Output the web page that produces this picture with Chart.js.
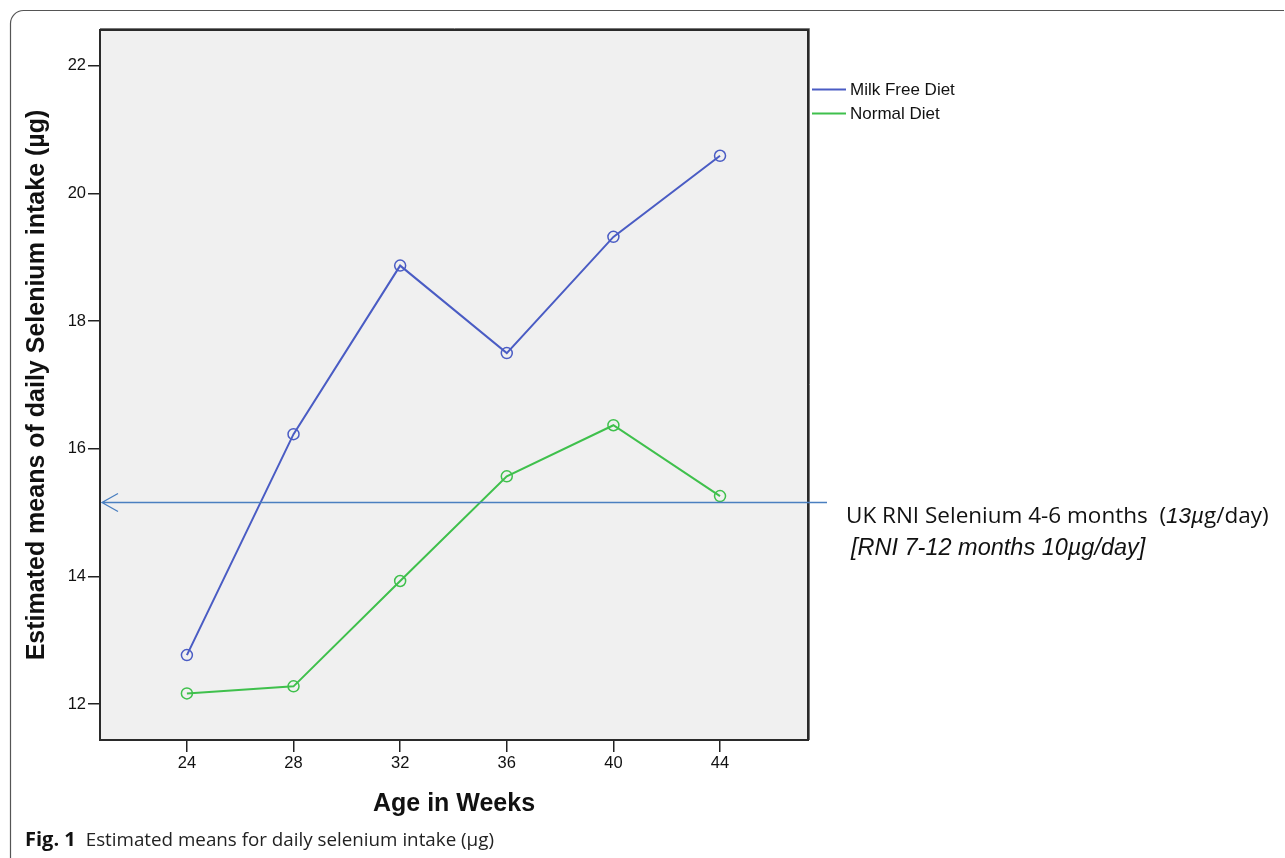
<!DOCTYPE html>
<html>
<head>
<meta charset="utf-8">
<script src="https://cdn.jsdelivr.net/npm/chart.js@4.4.0/dist/chart.umd.min.js"></script>
<style>
html,body{margin:0;padding:0;background:#fff;}
#wrap{position:relative;width:1285px;height:858px;}
canvas{display:block;}
</style>
</head>
<body>
<div id="wrap"><canvas id="c" width="1285" height="858"></canvas></div>
<script>
// ---- data ----
const weeks = [24, 28, 32, 36, 40, 44];
const milkFree = [12.77, 16.23, 18.87, 17.50, 19.32, 20.59];
const normalDiet = [12.17, 12.28, 13.93, 15.57, 16.37, 15.26];
const seriesNames = ['Milk Free Diet', 'Normal Diet'];
const xTicks = [24, 28, 32, 36, 40, 44];
const yTicks = [12, 14, 16, 18, 20, 22];
const rniValue = 15.17;
const rniLine1a = 'UK RNI Selenium 4-6 months  (';
const rniLine1b = '13µ';
const rniLine1c = 'g/day)';
const rniLine2 = '[RNI 7-12 months 10µg/day]';
const xTitle = 'Age in Weeks';
const yTitle = 'Estimated means of daily Selenium intake (µg)';
const captionBold = 'Fig. 1';
const captionText = 'Estimated means for daily selenium intake (µg)';

const BLUE = '#4a5cc4';
const GREEN = '#3fc04c';
const ARROW = '#4a7fc0';

const toPts = (xs, ys) => xs.map((x, i) => ({x: x, y: ys[i]}));

const decor = {
  id: 'decor',
  beforeDraw(chart) {
    const ctx = chart.ctx, a = chart.chartArea;
    ctx.save();
    ctx.strokeStyle = '#555';
    ctx.lineWidth = 1.2;
    ctx.beginPath();
    ctx.moveTo(10.5, 858);
    ctx.lineTo(10.5, 24);
    ctx.arcTo(10.5, 10.5, 24, 10.5, 13);
    ctx.lineTo(1284, 10.5);
    ctx.stroke();
    ctx.fillStyle = '#f0f0f0';
    ctx.fillRect(a.left, a.top, a.right - a.left, a.bottom - a.top);
    ctx.restore();
  },
  afterDatasetsDraw(chart) {
    const ctx = chart.ctx, a = chart.chartArea;
    const ys = chart.scales.y;
    ctx.save();
    ctx.strokeStyle = '#2a2a2a';
    ctx.lineWidth = 2;
    ctx.strokeRect(a.left, a.top, a.right - a.left, a.bottom - a.top);
    ctx.strokeStyle = '#777';
    ctx.lineWidth = 1;
    ctx.beginPath();
    ctx.moveTo(a.left, a.top - 1.5); ctx.lineTo(a.right + 1.5, a.top - 1.5); ctx.lineTo(a.right + 1.5, a.bottom);
    ctx.stroke();

    // RNI arrow
    const yy = Math.round(ys.getPixelForValue(rniValue)) + 0.5;
    const x0 = a.left + 2, x1 = a.right + 19;
    ctx.strokeStyle = ARROW;
    ctx.lineWidth = 1.3;
    ctx.beginPath();
    ctx.moveTo(x0, yy); ctx.lineTo(x1, yy);
    ctx.moveTo(x0 + 16, yy - 9); ctx.lineTo(x0, yy); ctx.lineTo(x0 + 16, yy + 9);
    ctx.stroke();

    // annotation text
    ctx.fillStyle = '#111';
    ctx.textBaseline = 'alphabetic';
    let tx = 846;
    ctx.font = '22.5px "Open Sans", "Noto Sans", sans-serif';
    ctx.fillText(rniLine1a, tx, yy + 20);
    tx += ctx.measureText(rniLine1a).width;
    ctx.font = 'italic 22.5px "Liberation Sans", Arial, sans-serif';
    ctx.fillText(rniLine1b, tx, yy + 20);
    tx += ctx.measureText(rniLine1b).width;
    ctx.font = '22.5px "Open Sans", "Noto Sans", sans-serif';
    ctx.fillText(rniLine1c, tx, yy + 20);
    ctx.font = 'italic 23.5px "Liberation Sans", Arial, sans-serif';
    ctx.fillText(rniLine2, 851, yy + 52);

    // legend
    const leg = [[seriesNames[0], BLUE, 89], [seriesNames[1], GREEN, 113]];
    ctx.font = '17px "Liberation Sans", Arial, sans-serif';
    ctx.textBaseline = 'middle';
    leg.forEach(([t, c, y]) => {
      ctx.strokeStyle = c; ctx.lineWidth = 2;
      ctx.beginPath(); ctx.moveTo(812, y + 0.5); ctx.lineTo(846, y + 0.5); ctx.stroke();
      ctx.fillStyle = '#111';
      ctx.fillText(t, 850, y + 1);
    });

    // axis titles
    ctx.font = 'bold 25px "Liberation Sans", Arial, sans-serif';
    ctx.textAlign = 'center';
    ctx.textBaseline = 'middle';
    ctx.fillStyle = '#111';
    ctx.fillText(xTitle, (a.left + a.right) / 2, 804);
    ctx.save();
    ctx.translate(37, (a.top + a.bottom) / 2);
    ctx.rotate(-Math.PI / 2);
    ctx.fillText(yTitle, 0, 0);
    ctx.restore();

    // caption
    ctx.textAlign = 'left';
    ctx.textBaseline = 'alphabetic';
    ctx.font = 'bold 20px "Open Sans", "Noto Sans", sans-serif';
    ctx.fillStyle = '#111';
    ctx.fillText(captionBold, 25, 846);
    const w = ctx.measureText(captionBold).width;
    ctx.font = '18.8px "Open Sans", "Noto Sans", sans-serif';
    ctx.fillStyle = '#222';
    ctx.fillText(captionText, 25 + w + 10, 846);
    ctx.restore();
  }
};

new Chart(document.getElementById('c'), {
  type: 'line',
  data: {
    datasets: [
      {label: seriesNames[0], data: toPts(weeks, milkFree), borderColor: BLUE, backgroundColor: 'rgba(0,0,0,0)',
       borderWidth: 2, pointRadius: 5.5, pointBorderWidth: 1.5, pointBorderColor: BLUE, pointBackgroundColor: 'rgba(0,0,0,0)', tension: 0},
      {label: seriesNames[1], data: toPts(weeks, normalDiet), borderColor: GREEN, backgroundColor: 'rgba(0,0,0,0)',
       borderWidth: 2, pointRadius: 5.5, pointBorderWidth: 1.5, pointBorderColor: GREEN, pointBackgroundColor: 'rgba(0,0,0,0)', tension: 0}
    ]
  },
  options: {
    responsive: false,
    animation: false,
    devicePixelRatio: 1,
    layout: {padding: {left: 0, top: 30, right: 477, bottom: 0}},
    plugins: {legend: {display: false}, tooltip: {enabled: false}},
    scales: {
      x: {
        type: 'linear', min: 20.74, max: 47.3,
        afterBuildTicks: s => { s.ticks = xTicks.map(v => ({value: v})); },
        afterFit: s => { s.height = 118; },
        border: {display: false},
        grid: {drawOnChartArea: false, drawTicks: true, tickLength: 12, color: '#222', lineWidth: 1.5},
        ticks: {color: '#111', font: {family: '"Liberation Sans", Arial, sans-serif', size: 16.5}, padding: 2, maxRotation: 0}
      },
      y: {
        type: 'linear', min: 11.44, max: 22.56,
        afterBuildTicks: s => { s.ticks = yTicks.map(v => ({value: v})); },
        afterFit: s => { s.width = 100; },
        border: {display: false},
        grid: {drawOnChartArea: false, drawTicks: true, tickLength: 12, color: '#222', lineWidth: 1.5},
        ticks: {color: '#111', font: {family: '"Liberation Sans", Arial, sans-serif', size: 16.5}, padding: 2}
      }
    }
  },
  plugins: [decor]
});
</script>
</body>
</html>
